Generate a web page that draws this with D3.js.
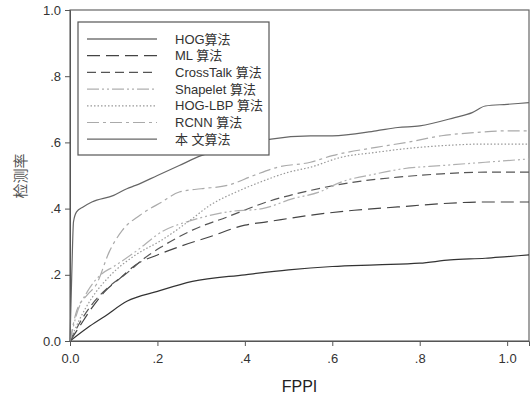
<!DOCTYPE html>
<html>
<head>
<meta charset="utf-8">
<script src="https://cdn.jsdelivr.net/npm/d3@7"></script>
<style>
  body { margin: 0; background: #fff; }
  svg text { font-family: "Liberation Sans", Arial, "Noto Sans CJK SC", sans-serif; }
</style>
</head>
<body>
<svg id="chart"></svg>
<script>
// Curve data: [FPPI, detection rate]
const hog = [[0,0],[0.04,0.04],[0.08,0.075],[0.13,0.12],[0.2,0.15],[0.28,0.18],[0.4,0.2],[0.5,0.215],[0.6,0.225],[0.7,0.23],[0.8,0.235],[0.87,0.245],[0.95,0.25],[1.0,0.255],[1.05,0.26]]
const ml = [[0,0],[0.02,0.04],[0.05,0.1],[0.08,0.15],[0.115,0.19],[0.15,0.23],[0.2,0.26],[0.25,0.285],[0.32,0.315],[0.4,0.35],[0.45,0.36],[0.55,0.38],[0.65,0.395],[0.75,0.405],[0.85,0.415],[0.95,0.42],[1.05,0.42]]
const crossTalk = [[0,0],[0.02,0.05],[0.05,0.11],[0.09,0.165],[0.13,0.205],[0.17,0.25],[0.21,0.285],[0.28,0.335],[0.36,0.375],[0.45,0.42],[0.55,0.455],[0.65,0.48],[0.75,0.495],[0.85,0.505],[0.95,0.51],[1.05,0.51]]
const shapelet = [[0,0],[0.015,0.08],[0.04,0.15],[0.07,0.2],[0.1,0.225],[0.15,0.27],[0.21,0.33],[0.28,0.365],[0.36,0.39],[0.44,0.4],[0.51,0.43],[0.57,0.45],[0.62,0.48],[0.7,0.505],[0.76,0.52],[0.85,0.53],[0.95,0.54],[1.05,0.55]]
const hogLbp = [[0,0],[0.02,0.06],[0.05,0.13],[0.09,0.195],[0.15,0.26],[0.21,0.305],[0.28,0.37],[0.32,0.41],[0.38,0.45],[0.435,0.48],[0.5,0.51],[0.55,0.525],[0.62,0.555],[0.7,0.57],[0.76,0.58],[0.85,0.59],[0.95,0.595],[1.05,0.595]]
const rcnn = [[0,0],[0.015,0.09],[0.04,0.14],[0.06,0.17],[0.09,0.27],[0.12,0.335],[0.16,0.38],[0.21,0.42],[0.25,0.45],[0.3,0.46],[0.36,0.47],[0.42,0.5],[0.475,0.525],[0.55,0.54],[0.6,0.56],[0.7,0.585],[0.77,0.6],[0.85,0.62],[0.93,0.63],[1.0,0.635],[1.05,0.635]]
const ours = [[0,0],[0.004,0.2],[0.008,0.36],[0.015,0.39],[0.03,0.405],[0.05,0.42],[0.1,0.44],[0.13,0.46],[0.15,0.47],[0.2,0.5],[0.25,0.53],[0.3,0.56],[0.4,0.59],[0.46,0.61],[0.55,0.62],[0.6,0.62],[0.7,0.635],[0.75,0.645],[0.8,0.65],[0.88,0.675],[0.92,0.69],[0.95,0.71],[1.0,0.715],[1.05,0.72]]

const seriesNames = ["HOG算法", "ML 算法", "CrossTalk 算法", "Shapelet 算法", "HOG-LBP 算法", "RCNN 算法", "本 文算法"]
const seriesData = [hog, ml, crossTalk, shapelet, hogLbp, rcnn, ours]
const xTicks = [0, 0.2, 0.4, 0.6, 0.8, 1.0]
const yTicks = [0, 0.2, 0.4, 0.6, 0.8, 1.0]

// line styles per series
const styles = [
  { color: "#333", dash: null, w: 1.2 },
  { color: "#444", dash: "13,6", w: 1.2 },
  { color: "#555", dash: "9,5", w: 1.2 },
  { color: "#b0b0b0", dash: "12,3,2,3,2,3", w: 1.2 },
  { color: "#999", dash: "1.5,2", w: 1.2 },
  { color: "#aaa", dash: "12,4,3,4", w: 1.2 },
  { color: "#666", dash: null, w: 1.2 }
]

const width = 530
const height = 396
const margin = { top: 10, right: 1, bottom: 55, left: 70 }

const svg = d3.select("#chart")
  .attr("width", width)
  .attr("height", height)

const x = d3.scaleLinear()
  .domain([0, 1.05])
  .range([margin.left, width - margin.right])

const y = d3.scaleLinear()
  .domain([0, 1])
  .range([height - margin.bottom, margin.top])

const fmt = d => d === 0 ? "0.0" : d === 1 ? "1.0" : d3.format(".1f")(d).replace(/^0/, "")

// Frame
svg.append("rect")
  .attr("x", x(0))
  .attr("y", y(1))
  .attr("width", x(1.05) - x(0))
  .attr("height", y(0) - y(1))
  .attr("fill", "none")
  .attr("stroke", "#666")
  .attr("stroke-width", 1.2)

// Axes
svg.append("g")
  .attr("transform", `translate(0, ${y(0)})`)
  .call(d3.axisBottom(x).tickValues(xTicks).tickFormat(fmt).tickSize(5).tickPadding(8))
  .call(g => g.select(".domain").attr("stroke", "#555"))
  .call(g => g.selectAll(".tick line").attr("stroke", "#555"))
  .call(g => g.selectAll(".tick text")
    .attr("font-family", "Liberation Sans, Arial, sans-serif")
    .attr("font-size", 13)
    .attr("fill", "#333"))

svg.append("g")
  .attr("transform", `translate(${x(0)}, 0)`)
  .call(d3.axisLeft(y).tickValues(yTicks).tickFormat(fmt).tickSize(5).tickPadding(4))
  .call(g => g.select(".domain").attr("stroke", "#555"))
  .call(g => g.selectAll(".tick line").attr("stroke", "#555"))
  .call(g => g.selectAll(".tick text")
    .attr("font-family", "Liberation Sans, Arial, sans-serif")
    .attr("font-size", 13)
    .attr("fill", "#333"))

// Axis titles
svg.append("text")
  .attr("x", (x(0) + x(1.05)) / 2)
  .attr("y", 392)
  .attr("text-anchor", "middle")
  .attr("font-size", 16)
  .attr("fill", "#222")
  .text("FPPI")

svg.append("text")
  .attr("transform", `translate(26, 176) rotate(-90)`)
  .attr("text-anchor", "middle")
  .attr("font-family", "Noto Sans CJK SC, sans-serif")
  .attr("font-size", 15)
  .attr("fill", "#555")
  .text("检测率")

// Curves
const line = d3.line()
  .x(d => x(d[0]))
  .y(d => y(d[1]))
  .curve(d3.curveMonotoneX)

svg.append("g")
  .selectAll("path")
  .data(seriesData)
  .join("path")
  .attr("d", line)
  .attr("fill", "none")
  .attr("stroke", (d, i) => styles[i].color)
  .attr("stroke-width", (d, i) => styles[i].w)
  .attr("stroke-dasharray", (d, i) => styles[i].dash)

// Legend
const legend = svg.append("g")
  .attr("transform", "translate(78, 22)")

legend.append("rect")
  .attr("width", 191)
  .attr("height", 133)
  .attr("fill", "#fff")
  .attr("stroke", "#555")
  .attr("stroke-width", 1.2)

const rows = legend.selectAll("g.row")
  .data(seriesNames)
  .join("g")
  .attr("class", "row")
  .attr("transform", (d, i) => `translate(0, ${17 + i * 16.7})`)

rows.append("line")
  .attr("x1", 9)
  .attr("x2", 79)
  .attr("stroke", (d, i) => styles[i].color)
  .attr("stroke-width", (d, i) => styles[i].w)
  .attr("stroke-dasharray", (d, i) => styles[i].dash)

rows.append("text")
  .attr("x", 97)
  .attr("dy", "0.35em")
  .attr("font-size", 13)
  .attr("fill", "#333")
  .text(d => d)
</script>
</body>
</html>
